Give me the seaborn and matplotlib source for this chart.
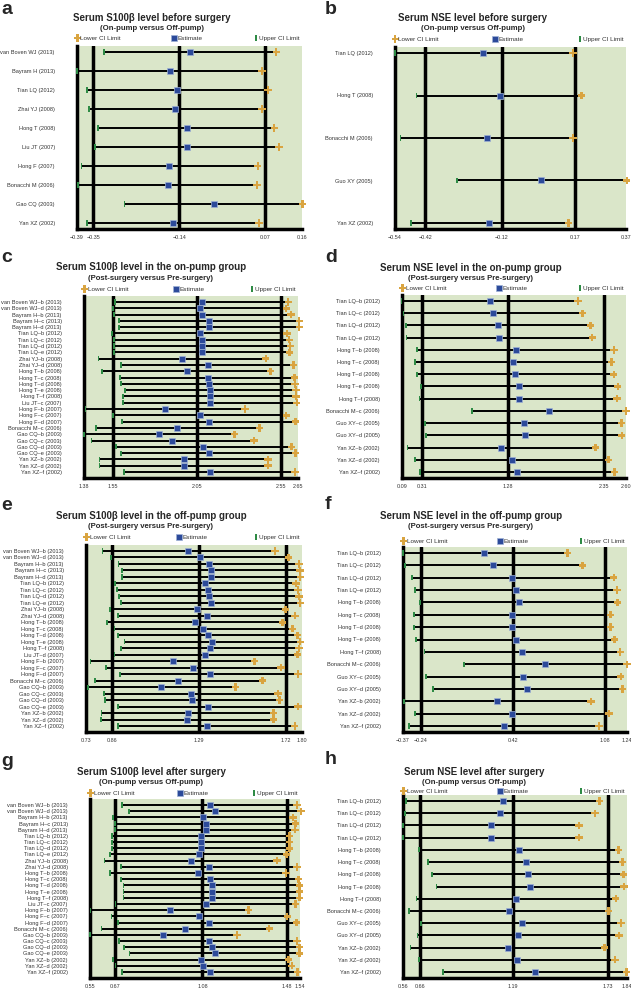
import numpy as np
import pandas as pd
import seaborn as sns
import matplotlib.pyplot as plt
from matplotlib.path import Path

sns.set_style("white")
plt.rcParams['font.family'] = ['Liberation Sans', 'DejaVu Sans']

# study labels
a_labels = ['van Boven WJ (2013)', 'Bayram H (2013)', 'Tian LQ (2012)', 'Zhai YJ (2008)',
            'Hong T (2008)', 'Liu JT (2007)', 'Hong F (2007)', 'Bonacchi M (2006)',
            'Gao CQ (2003)', 'Yan XZ (2002)']
b_labels = ['Tian LQ (2012)', 'Hong T (2008)', 'Bonacchi M (2006)', 'Guo XY (2005)', 'Yan XZ (2002)']
s100_labels = ['van Boven WJ–b (2013)', 'van Boven WJ–d (2013)', 'Bayram H–b (2013)',
               'Bayram H–c (2013)', 'Bayram H–d (2013)', 'Tian LQ–b (2012)', 'Tian LQ–c (2012)',
               'Tian LQ–d (2012)', 'Tian LQ–e (2012)', 'Zhai YJ–b (2008)', 'Zhai YJ–d (2008)',
               'Hong T–b (2008)', 'Hong T–c (2008)', 'Hong T–d (2008)', 'Hong T–e (2008)',
               'Hong T–f (2008)', 'Liu JT–c (2007)', 'Hong F–b (2007)', 'Hong F–c (2007)',
               'Hong F–d (2007)', 'Bonacchi M–c (2006)', 'Gao CQ–b (2003)', 'Gao CQ–c (2003)',
               'Gao CQ–d (2003)', 'Gao CQ–e (2003)', 'Yan XZ–b (2002)', 'Yan XZ–d (2002)',
               'Yan XZ–f (2002)']
e_labels = [l.replace('Liu JT–c', 'Liu JT–d') for l in s100_labels]
nse_labels = ['Tian LQ–b (2012)', 'Tian LQ–c (2012)', 'Tian LQ–d (2012)', 'Tian LQ–e (2012)',
              'Hong T–b (2008)', 'Hong T–c (2008)', 'Hong T–d (2008)', 'Hong T–e (2008)',
              'Hong T–f (2008)', 'Bonacchi M–c (2006)', 'Guo XY–c (2005)', 'Guo XY–d (2005)',
              'Yan XZ–b (2002)', 'Yan XZ–d (2002)', 'Yan XZ–f (2002)']

# values as labelled in the chart legend: "Upper CI Limit" (green, left end),
# "Estimate" (blue square), "Lower CI Limit" (orange, right end)
a_upper = [-0.325, -0.390, -0.366, -0.361, -0.338, -0.345, -0.379, -0.387, -0.274, -0.365]
a_est = [-0.115, -0.163, -0.145, -0.150, -0.122, -0.120, -0.164, -0.168, -0.055, -0.156]
a_lower = [0.097, 0.062, 0.077, 0.062, 0.092, 0.104, 0.052, 0.050, 0.161, 0.055]
a_ticks = [-0.39, -0.35, -0.14, 0.07, 0.16]

b_upper = [-0.540, -0.455, -0.518, -0.297, -0.478]
b_est = [-0.192, -0.128, -0.178, 0.036, -0.168]
b_lower = [0.161, 0.195, 0.161, 0.373, 0.143]
b_ticks = [-0.54, -0.42, -0.12, 0.17, 0.37]

c_upper = [1.564, 1.554, 1.556, 1.590, 1.590, 1.544, 1.556, 1.558, 1.558, 1.466, 1.598, 1.486, 1.594, 1.602,
           1.624, 1.612, 1.612, 1.389, 1.550, 1.606, 1.449, 1.379, 1.425, 1.570, 1.600, 1.472, 1.472, 1.616]
c_est = [2.081, 2.067, 2.081, 2.119, 2.119, 2.067, 2.079, 2.081, 2.079, 1.962, 2.113, 1.989, 2.113, 2.119,
         2.130, 2.128, 2.128, 1.862, 2.069, 2.123, 1.934, 1.824, 1.904, 2.089, 2.123, 1.973, 1.973, 2.127]
c_lower = [2.592, 2.580, 2.608, 2.657, 2.657, 2.584, 2.598, 2.604, 2.600, 2.459, 2.624, 2.488, 2.628, 2.632,
           2.639, 2.639, 2.643, 2.335, 2.580, 2.635, 2.421, 2.272, 2.389, 2.612, 2.635, 2.472, 2.472, 2.633]
c_ticks = [1.38, 1.55, 2.05, 2.55, 2.65]

d_upper = [0.085, 0.107, 0.137, 0.141, 0.254, 0.239, 0.254, 0.306, 0.287, 0.870, 0.351, 0.363, 0.152, 0.239, 0.295]
d_est = [1.073, 1.114, 1.170, 1.178, 1.362, 1.339, 1.358, 1.403, 1.396, 1.738, 1.452, 1.467, 1.204, 1.321, 1.377]
d_lower = [2.064, 2.113, 2.203, 2.222, 2.466, 2.440, 2.463, 2.508, 2.500, 2.600, 2.549, 2.553, 2.260, 2.402, 2.470]
d_ticks = [0.09, 0.31, 1.28, 2.35, 2.60]

e_upper = [0.812, 0.855, 0.891, 0.907, 0.907, 0.873, 0.884, 0.892, 0.902, 0.847, 0.889, 0.836, 0.871, 0.887,
           0.921, 0.905, 0.871, 0.752, 0.828, 0.899, 0.776, 0.740, 0.820, 0.826, 0.889, 0.807, 0.805, 0.889]
e_est = [1.237, 1.295, 1.337, 1.350, 1.350, 1.321, 1.332, 1.340, 1.347, 1.282, 1.327, 1.269, 1.311, 1.332,
         1.353, 1.343, 1.319, 1.159, 1.261, 1.342, 1.187, 1.104, 1.251, 1.256, 1.332, 1.235, 1.232, 1.327]
e_lower = [1.667, 1.733, 1.786, 1.790, 1.791, 1.770, 1.780, 1.786, 1.791, 1.718, 1.765, 1.704, 1.752, 1.777,
           1.791, 1.785, 1.777, 1.565, 1.696, 1.781, 1.604, 1.471, 1.681, 1.689, 1.780, 1.659, 1.659, 1.764]
e_ticks = [0.73, 0.86, 1.29, 1.72, 1.80]

f_upper = [-0.372, -0.358, -0.307, -0.281, -0.245, -0.293, -0.293, -0.274, -0.216, 0.068, -0.204, -0.153,
           -0.360, -0.281, -0.329]
f_est = [0.214, 0.277, 0.416, 0.445, 0.462, 0.416, 0.416, 0.445, 0.484, 0.652, 0.496, 0.522, 0.308, 0.416, 0.354]
f_lower = [0.811, 0.921, 1.145, 1.169, 1.171, 1.123, 1.123, 1.150, 1.191, 1.239, 1.195, 1.207, 0.981, 1.111, 1.039]
f_ticks = [-0.37, -0.24, 0.42, 1.08, 1.24]

g_upper = [0.700, 0.735, 0.659, 0.667, 0.667, 0.654, 0.654, 0.654, 0.646, 0.618, 0.695, 0.645, 0.697, 0.708,
           0.708, 0.708, 0.670, 0.552, 0.651, 0.683, 0.604, 0.550, 0.687, 0.711, 0.736, 0.659, 0.670, 0.702]
g_est = [1.114, 1.137, 1.082, 1.095, 1.095, 1.071, 1.071, 1.071, 1.065, 1.025, 1.111, 1.057, 1.117, 1.123,
         1.123, 1.123, 1.095, 0.926, 1.065, 1.109, 1.000, 0.896, 1.111, 1.123, 1.137, 1.071, 1.084, 1.118]
g_lower = [1.526, 1.545, 1.507, 1.518, 1.516, 1.490, 1.490, 1.490, 1.477, 1.431, 1.526, 1.474, 1.532, 1.538,
           1.538, 1.538, 1.518, 1.298, 1.480, 1.524, 1.395, 1.243, 1.526, 1.538, 1.538, 1.486, 1.501, 1.529]
g_ticks = [0.55, 0.67, 1.08, 1.48, 1.54]

h_upper = [0.576, 0.573, 0.559, 0.559, 0.652, 0.704, 0.725, 0.751, 0.637, 0.595, 0.664, 0.643, 0.603, 0.652, 0.789]
h_est = [1.129, 1.116, 1.065, 1.065, 1.221, 1.262, 1.272, 1.287, 1.204, 1.164, 1.238, 1.219, 1.158, 1.213, 1.314]
h_lower = [1.682, 1.658, 1.566, 1.566, 1.791, 1.814, 1.819, 1.823, 1.776, 1.734, 1.806, 1.795, 1.711, 1.772, 1.838]
h_ticks = [0.56, 0.66, 1.19, 1.73, 1.84]

on_off = '(On-pump versus Off-pump)'
post_pre = '(Post-surgery versus Pre-surgery)'

# letter, title, subtitle, labels, upper, est, lower, ticks,
# axes box in px (left, right, top, bottom), title x, title y, subtitle y, legend y, letter y
panels = [
    ('a', 'Serum S100β level before surgery', on_off, a_labels, a_upper, a_est, a_lower, a_ticks,
     (77, 302, 46, 229), 152, 18, 28, 38, 9),
    ('b', 'Serum NSE level before surgery', on_off, b_labels, b_upper, b_est, b_lower, b_ticks,
     (395, 626, 47, 229), 473, 18, 28, 39, 9),
    ('c', 'Serum S100β level in the on-pump group', post_pre, s100_labels, c_upper, c_est, c_lower, c_ticks,
     (84, 298, 296, 478), 151, 267, 278, 289, 257),
    ('d', 'Serum NSE level in the on-pump group', post_pre, nse_labels, d_upper, d_est, d_lower, d_ticks,
     (402, 626, 295, 478), 471, 268, 278, 288, 257),
    ('e', 'Serum S100β level in the off-pump group', post_pre, e_labels, e_upper, e_est, e_lower, e_ticks,
     (86, 302, 545, 732), 151, 516, 527, 537, 506),
    ('f', 'Serum NSE level in the off-pump group', post_pre, nse_labels, f_upper, f_est, f_lower, f_ticks,
     (403, 627, 547, 732), 471, 516, 527, 541, 505),
    ('g', 'Serum S100β level after surgery', on_off, s100_labels, g_upper, g_est, g_lower, g_ticks,
     (90, 300, 799, 978), 151, 772, 782, 793, 762),
    ('h', 'Serum NSE level after surgery', on_off, nse_labels, h_upper, h_est, h_lower, h_ticks,
     (403, 627, 795, 978), 474, 772, 782, 791, 760),
]

W, H = 631, 989
BG = '#dae6c9'
ORANGE = '#d9a440'
BLUE = '#2c4a9a'
GREEN = '#2e8b45'

# thin vertical bar marker for the green end
bar = Path([(-0.35, -1), (0.35, -1), (0.35, 1), (-0.35, 1), (-0.35, -1)],
           [Path.MOVETO, Path.LINETO, Path.LINETO, Path.LINETO, Path.CLOSEPOLY])

fig = plt.figure(figsize=(W / 100, H / 100), dpi=100)

for (letter, title, subtitle, labels, upper, est, lower, ticks,
     box, tx, ty, sy, ly, lety) in panels:
    left, right, top, bottom = box
    ax = fig.add_axes([left / W, 1 - bottom / H, (right - left) / W, (bottom - top) / H])
    df = pd.DataFrame({'study': labels, 'pos': np.arange(len(labels)),
                       'upper': upper, 'est': est, 'lower': lower})
    n = len(df)

    ax.set_facecolor(BG)
    for t in ticks[1:4]:
        ax.axvline(t, color='black', lw=2.5, zorder=1)
    ax.hlines(df['pos'], df['upper'], df['lower'], color='black', lw=1.4, zorder=2, clip_on=False)

    sns.scatterplot(data=df, x='lower', y='pos', marker='P', s=28, color=ORANGE, edgecolor='none',
                    label='Lower CI Limit', ax=ax, zorder=4, clip_on=False)
    sns.scatterplot(data=df, x='est', y='pos', marker='s', s=24, color=BLUE, edgecolor='#9fb2d6',
                    linewidth=0.5, label='Estimate', ax=ax, zorder=5, clip_on=False)
    sns.scatterplot(data=df, x='upper', y='pos', marker=bar, s=14, color=GREEN, edgecolor='none',
                    label='Upper CI Limit', ax=ax, zorder=4, clip_on=False)

    h_px = bottom - top
    m = 6 / ((h_px - 12) / (n - 1))
    ax.set_ylim(n - 1 + m, -m)
    ax.set_xlim(ticks[0], ticks[-1])
    ax.set_yticks(df['pos'])
    ax.set_yticklabels(df['study'])
    ax.set_xticks(ticks)
    ax.set_xticklabels([f'{t:.2f}'.replace('-', '−') for t in ticks])
    ax.set_xlabel('')
    ax.set_ylabel('')
    ax.tick_params(axis='y', length=0, pad=16, labelsize=4.1, labelcolor='#333333')
    ax.tick_params(axis='x', length=3, width=2.5, color='black', pad=1.5, labelsize=3.9,
                   labelcolor='#333333')
    for s in ['top', 'right']:
        ax.spines[s].set_visible(False)
    for s in ['left', 'bottom']:
        ax.spines[s].set_linewidth(2.5)
        ax.spines[s].set_color('black')

    leg_y = 1 + (top - ly) / h_px
    ax.legend(loc='center left', bbox_to_anchor=(-0.01, leg_y, 1.0, 0), ncol=3, mode='expand',
              frameon=False, fontsize=4.6, handletextpad=0.1, handlelength=0.8,
              borderaxespad=0, borderpad=0, labelcolor='#333333')

    fig.text(tx / W, 1 - ty / H, title, ha='center', va='center', fontsize=7, fontweight='bold')
    fig.text(tx / W, 1 - sy / H, subtitle, ha='center', va='center', fontsize=5.6, fontweight='bold')
    lx = 1 if letter in 'aceg' else 325
    fig.text(lx / W, 1 - lety / H, letter, ha='left', va='center', fontsize=14, fontweight='bold')

fig.savefig('out.png', dpi=100)
